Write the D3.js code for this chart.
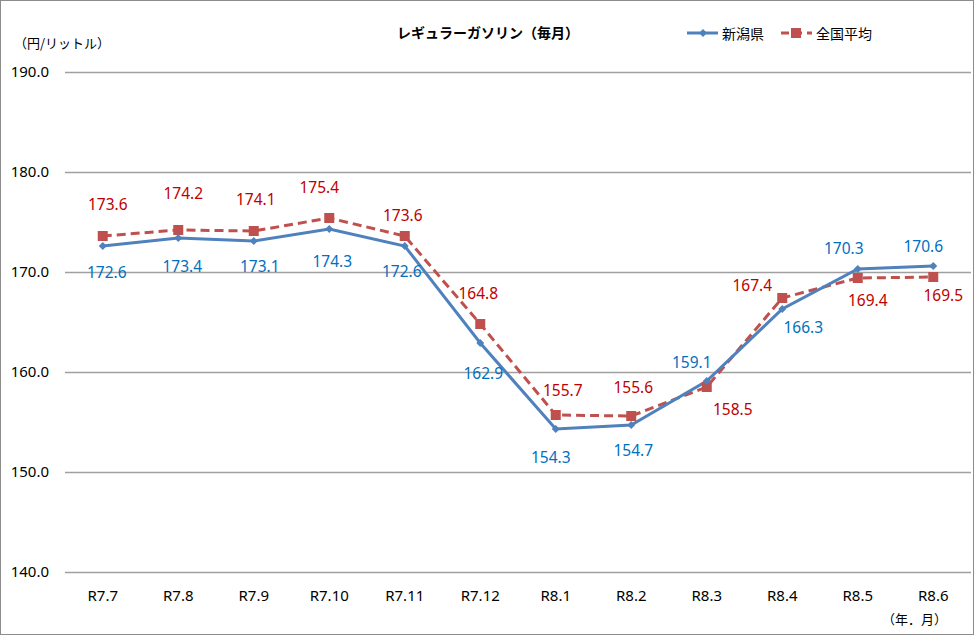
<!DOCTYPE html>
<html>
<head>
<meta charset="utf-8">
<script src="https://cdn.jsdelivr.net/npm/d3@7"></script>
<style>
  body { margin: 0; background: #fff; }
  svg { display: block; }
</style>
</head>
<body>
<div id="chart"></div>
<script>
// Data
const months = ["R7.7", "R7.8", "R7.9", "R7.10", "R7.11", "R7.12", "R8.1", "R8.2", "R8.3", "R8.4", "R8.5", "R8.6"];
const niigata = [172.6, 173.4, 173.1, 174.3, 172.6, 162.9, 154.3, 154.7, 159.1, 166.3, 170.3, 170.6];
const zenkoku = [173.6, 174.2, 174.1, 175.4, 173.6, 164.8, 155.7, 155.6, 158.5, 167.4, 169.4, 169.5];
const yTicks = [140, 150, 160, 170, 180, 190];

// Label nudges (px from the point) so labels sit where they do in the original
const niigataNudge = [[4, 26], [4, 28], [6, 25], [3, 32], [-3, 25], [3, 30], [-5, 28], [2, 25], [-15, -19], [21, 18], [-14, -21], [-10, -20]];
const zenkokuNudge = [[5, -32], [5, -37], [2, -32], [-10, -31], [-2, -21], [-2, -31], [7, -25], [2, -29], [26, 22], [-30, -13], [10, 22], [10, 18]];

const width = 976, height = 637;
const margin = {top: 72, right: 5, bottom: 65, left: 65};

const svg = d3.select("#chart").append("svg")
    .attr("width", width)
    .attr("height", height);

// outer frame
svg.append("rect")
    .attr("x", 0.5).attr("y", 0.5)
    .attr("width", 973).attr("height", 634)
    .attr("fill", "#fff")
    .attr("stroke", "#8c8c8c");

const x = d3.scaleBand()
    .domain(months)
    .range([margin.left, width - margin.right]);

const y = d3.scaleLinear()
    .domain([140, 190])
    .range([height - margin.bottom, margin.top]);

const numFont = "'Noto Sans', 'DejaVu Sans', sans-serif";
const jpFont = "'Noto Sans CJK JP', sans-serif";

// gridlines + y tick labels
const yAxis = svg.append("g")
    .attr("transform", `translate(${margin.left},0)`)
    .call(d3.axisLeft(y).tickValues(yTicks).tickFormat(d3.format(".1f"))
        .tickSize(-(width - margin.left - margin.right)).tickPadding(16));
yAxis.select(".domain").remove();
yAxis.selectAll(".tick line").attr("stroke", "#a0a0a0").attr("stroke-width", 1.3);
yAxis.selectAll(".tick text")
    .attr("fill", "#000")
    .style("font-family", numFont)
    .style("font-size", "15px");

// x labels
const xAxis = svg.append("g")
    .attr("transform", `translate(0,${height - margin.bottom})`)
    .call(d3.axisBottom(x).tickSize(0).tickPadding(18));
xAxis.select(".domain").remove();
xAxis.selectAll(".tick text")
    .attr("fill", "#000")
    .style("font-family", numFont)
    .style("font-size", "15px");

// axis unit labels
svg.append("text")
    .attr("x", 14).attr("y", 48)
    .style("font-family", jpFont).style("font-size", "13px")
    .text("（円/リットル）");
svg.append("text")
    .attr("x", 947).attr("y", 624)
    .attr("text-anchor", "end")
    .style("font-family", jpFont).style("font-size", "13px")
    .text("（年．月）");

// title
svg.append("text")
    .attr("x", 488).attr("y", 38)
    .attr("text-anchor", "middle")
    .style("font-family", jpFont).style("font-size", "14px").style("font-weight", "bold")
    .text("レギュラーガソリン（毎月）");

const cx = (d, i) => x(months[i]) + x.bandwidth() / 2;

const line = d3.line()
    .x((d, i) => cx(d, i))
    .y(d => y(d));

const blue = "#4f81bd", red = "#c0504d";

// national average (dashed, squares)
svg.append("path")
    .datum(zenkoku)
    .attr("d", line)
    .attr("fill", "none")
    .attr("stroke", red)
    .attr("stroke-width", 3)
    .attr("stroke-dasharray", "9,5");

// Niigata (solid, diamonds)
svg.append("path")
    .datum(niigata)
    .attr("d", line)
    .attr("fill", "none")
    .attr("stroke", blue)
    .attr("stroke-width", 3);

svg.append("g").selectAll("rect")
    .data(zenkoku)
    .join("rect")
    .attr("x", (d, i) => cx(d, i) - 5)
    .attr("y", d => y(d) - 5)
    .attr("width", 10).attr("height", 10)
    .attr("fill", red);

svg.append("g").selectAll("path")
    .data(niigata)
    .join("path")
    .attr("d", d3.symbol(d3.symbolDiamond2, 40))
    .attr("transform", (d, i) => `translate(${cx(d, i)},${y(d)})`)
    .attr("fill", blue);

// data labels
svg.append("g").selectAll("text")
    .data(zenkoku)
    .join("text")
    .attr("x", (d, i) => cx(d, i) + zenkokuNudge[i][0])
    .attr("y", (d, i) => y(d) + zenkokuNudge[i][1])
    .attr("text-anchor", "middle")
    .attr("dominant-baseline", "central")
    .attr("fill", "#c00000")
    .style("font-family", numFont).style("font-size", "15.5px")
    .text(d => d.toFixed(1));

svg.append("g").selectAll("text")
    .data(niigata)
    .join("text")
    .attr("x", (d, i) => cx(d, i) + niigataNudge[i][0])
    .attr("y", (d, i) => y(d) + niigataNudge[i][1])
    .attr("text-anchor", "middle")
    .attr("dominant-baseline", "central")
    .attr("fill", "#0070c0")
    .style("font-family", numFont).style("font-size", "15.5px")
    .text(d => d.toFixed(1));

// legend
const legend = svg.append("g").attr("transform", "translate(0,33)");
legend.append("line")
    .attr("x1", 687).attr("x2", 718)
    .attr("stroke", blue).attr("stroke-width", 3);
legend.append("path")
    .attr("d", d3.symbol(d3.symbolDiamond2, 40))
    .attr("transform", "translate(703,0)")
    .attr("fill", blue);
legend.append("text")
    .attr("x", 722).attr("dominant-baseline", "central")
    .style("font-family", jpFont).style("font-size", "14px")
    .text("新潟県");

legend.append("line")
    .attr("x1", 781).attr("x2", 812)
    .attr("stroke", red).attr("stroke-width", 3)
    .attr("stroke-dasharray", "8,5");
legend.append("rect")
    .attr("x", 791).attr("y", -5)
    .attr("width", 10).attr("height", 10)
    .attr("fill", red);
legend.append("text")
    .attr("x", 816).attr("dominant-baseline", "central")
    .style("font-family", jpFont).style("font-size", "14px")
    .text("全国平均");
</script>
</body>
</html>
